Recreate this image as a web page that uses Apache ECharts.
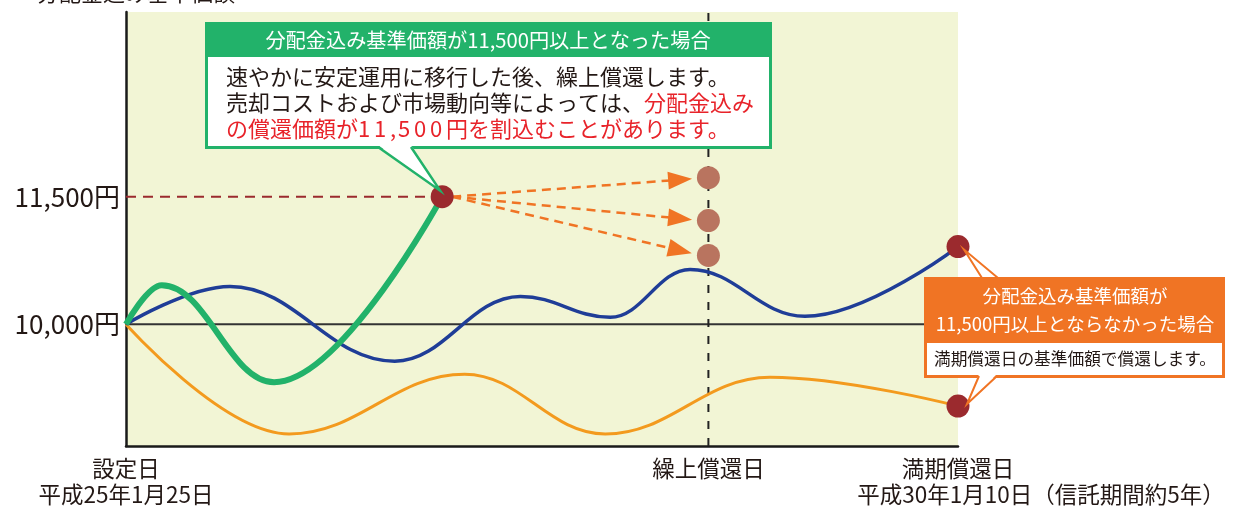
<!DOCTYPE html>
<html><head><meta charset="utf-8">
<script src="https://cdn.jsdelivr.net/npm/echarts@6/dist/echarts.min.js"></script>
<style>html,body{margin:0;padding:0;background:#fff}#c{width:1237px;height:507px}</style>
</head><body><div id="c"></div>
<script>
// ---- data ----
const xTickValues = [0, 70, 100];
const xTickLabels = ['設定日', '繰上償還日', '満期償還日'];
const xSubTickValues = [0, 100];
const xTickSubLabels = ['平成25年1月25日', '平成30年1月10日（信託期間約5年）'];
const yTickValues = [10000, 11500];
const yTickLabels = ['10,000円', '11,500円'];
const threshold = 11500;
const baseValue = 10000;
const earlyDay = 70;

const greenX = [0, 4.3, 17.8, 38];
const greenY = [10000, 10460, 9320, 11500];
const blueX = [0, 12.5, 32.3, 47.4, 58.2, 67.8, 81.6, 100];
const blueY = [10000, 10445, 9566, 10328, 10082, 10645, 10094, 10914];
const orangeX = [0, 19.6, 40.7, 57.6, 77.4, 100];
const orangeY = [10000, 8711, 9414, 8711, 9379, 9039];
const endX = [38, 100, 100];
const endY = [11500, 10914, 9039];
const outcomeX = [70, 70, 70];
const outcomeY = [11723, 11219, 10809];
const arrowEndX = [66.6, 66.6, 66.6];
const arrowEndY = [11699, 11243, 10867];

const titleText = '分配金込み基準価額';
const greenHead = '分配金込み基準価額が11,500円以上となった場合';
const greenBody1 = '速やかに安定運用に移行した後、繰上償還します。';
const greenBody2a = '売却コストおよび市場動向等によっては、';
const greenBody2b = '分配金込み';
const greenBody3a = 'の償還価額が';
const greenBody3num = '11,500';
const greenBody3b = '円を割込むことがあります。';
const orangeHead1 = '分配金込み基準価額が';
const orangeHead2 = '11,500円以上とならなかった場合';
const orangeBody = '満期償還日の基準価額で償還します。';

// ---- chart ----
const zip = (xs, ys) => xs.map((x, i) => [x, ys[i]]);
const FONT = '"Noto Sans CJK JP", "Noto Sans", sans-serif';
const TXT = '#231815';
const GREEN = '#22b26a', BLUE = '#1f3d97', ORANGE_L = '#f39a1e', ORANGE = '#f07424';
const DARKRED = '#9b2a2e', BROWN = '#b9745f';

const chart = echarts.init(document.getElementById('c'));
const yMin = 8570, yMax = 13670;

chart.setOption({
  animation: false,
  textStyle: { fontFamily: FONT },
  grid: { left: 126, right: 279, top: 12, bottom: 60, show: true, backgroundColor: '#f2f5d5', borderWidth: 0 },
  xAxis: [{
    type: 'value', min: 0, max: 100,
    splitLine: { show: false }, axisTick: { show: false },
    axisLine: { onZero: false, lineStyle: { color: '#1a1a1a', width: 2.5 } },
    axisLabel: {
      customValues: xTickValues, showMinLabel: true, showMaxLabel: true, hideOverlap: false,
      margin: 9, color: TXT, fontFamily: FONT, fontSize: 22.5, lineHeight: 26,
      formatter: (v) => { const i = xTickValues.indexOf(v); return i < 0 ? '' : xTickLabels[i]; }
    }
  }, {
    type: 'value', min: 0, max: 100, position: 'bottom', offset: 26,
    splitLine: { show: false }, axisTick: { show: false }, axisLine: { show: false },
    axisLabel: {
      customValues: xSubTickValues, showMinLabel: true, showMaxLabel: true,
      margin: 9, color: TXT, fontFamily: FONT, fontSize: 22.5, lineHeight: 26,
      formatter: (v) => {
        const i = xSubTickValues.indexOf(v);
        if (i < 0) return '';
        return '{' + (i === 1 ? 'b' : 'a') + '|' + xTickSubLabels[i] + '}';
      },
      rich: {
        a: { fontSize: 22.5, lineHeight: 26, color: TXT, fontFamily: FONT },
        b: { fontSize: 22.5, lineHeight: 26, color: TXT, fontFamily: FONT, padding: [0, 0, 0, 166] }
      }
    }
  }],
  yAxis: {
    type: 'value', min: yMin, max: yMax,
    splitLine: { show: false }, axisTick: { show: false },
    axisLine: { show: true, onZero: false, lineStyle: { color: '#1a1a1a', width: 2.5 } },
    axisLabel: {
      customValues: yTickValues, showMinLabel: true, showMaxLabel: true, margin: 6, color: TXT, fontFamily: FONT, fontSize: 26,
      formatter: (v) => { const i = yTickValues.indexOf(v); return i < 0 ? '' : yTickLabels[i]; }
    }
  },
  series: [
    { type: 'line', data: [[0, baseValue], [100, baseValue]], symbol: 'none', silent: true, z: 1,
      lineStyle: { color: '#333', width: 2 } },
    { type: 'line', data: [[0, threshold], [endX[0], threshold]], symbol: 'none', z: 1,
      lineStyle: { color: DARKRED, width: 2, type: [10, 7] } },
    { type: 'line', data: [[earlyDay, yMin], [earlyDay, yMax]], symbol: 'none', z: 1,
      lineStyle: { color: '#222', width: 2, type: [8, 9] } },
    { type: 'line', data: zip(orangeX, orangeY), symbol: 'none', smooth: 0.4, smoothMonotone: 'x', z: 2,
      lineStyle: { color: ORANGE_L, width: 3 } },
    { type: 'line', data: zip(blueX, blueY), symbol: 'none', smooth: 0.4, smoothMonotone: 'x', z: 3,
      lineStyle: { color: BLUE, width: 3.5 } },
    { type: 'line', data: zip(greenX, greenY), symbol: 'none', smooth: 0.4, smoothMonotone: 'x', z: 4,
      lineStyle: { color: GREEN, width: 6 } },
    { type: 'line', data: [], symbol: 'none', z: 5,
      markLine: {
        silent: true, symbol: ['none', 'triangle'], symbolSize: [18, 24], label: { show: false },
        lineStyle: { color: ORANGE, width: 2.5, type: [9, 6] },
        data: arrowEndX.map((x, i) => [{ coord: [endX[0] + 1.2, threshold] }, { coord: [x, arrowEndY[i]] }])
      } },
    { type: 'scatter', data: zip(outcomeX, outcomeY), symbolSize: 23, z: 6, itemStyle: { color: BROWN, opacity: 1 } },
    { type: 'scatter', data: zip(endX, endY), symbolSize: 23, z: 7, itemStyle: { color: DARKRED, opacity: 1 } }
  ]
});

const p0 = chart.convertToPixel({ gridIndex: 0 }, [endX[0], endY[0]]);
const p1 = chart.convertToPixel({ gridIndex: 0 }, [endX[1], endY[1]]);
const p2 = chart.convertToPixel({ gridIndex: 0 }, [endX[2], endY[2]]);

const numTokens = greenBody3num.split('').map(ch => ch === ',' ? '{c|,}' : '{d|' + ch + '}').join('');
const bodyFS = 22;
const graphic = [
  { type: 'text', x: 37, y: -18, z: 50, style: { text: titleText, fontSize: 22, fill: TXT, fontFamily: FONT } },
  // green box
  { type: 'rect', z: 50, shape: { x: 205, y: 22, width: 567, height: 127 }, style: { fill: GREEN } },
  { type: 'rect', z: 51, shape: { x: 208, y: 57, width: 561, height: 89 }, style: { fill: '#fff' } },
  { type: 'polygon', z: 51, shape: { points: [[378, 145], [411, 145], [p0[0] - 2, p0[1] - 6]] }, style: { fill: '#fff' } },
  { type: 'polyline', z: 52, shape: { points: [[378, 147], [p0[0] - 2, p0[1] - 6], [411, 147]] }, style: { stroke: GREEN, lineWidth: 2.5, fill: null } },
  { type: 'text', z: 53, style: { x: 488, y: 40, text: greenHead, fontSize: 20.2, fill: '#fff', fontFamily: FONT, align: 'center', verticalAlign: 'middle' } },
  { type: 'text', z: 53, style: {
      x: 226, y: 64, fontFamily: FONT, fontSize: bodyFS, lineHeight: 26,
      text: '{k|' + greenBody1 + '}\n{k|' + greenBody2a + '}{r|' + greenBody2b + '}\n{r|' + greenBody3a + '}' + numTokens + '{r|' + greenBody3b + '}',
      rich: {
        k: { fill: TXT, fontSize: bodyFS, lineHeight: 26, fontFamily: FONT },
        r: { fill: '#e8232a', fontSize: bodyFS, lineHeight: 26, fontFamily: FONT },
        d: { fill: '#e8232a', fontSize: bodyFS, lineHeight: 26, fontFamily: FONT, width: 16, align: 'left' },
        c: { fill: '#e8232a', fontSize: bodyFS, lineHeight: 26, fontFamily: FONT, width: 8, align: 'left' }
      }
  } },
  // orange box
  { type: 'polygon', z: 50, shape: { points: [[982, 279], [998, 279], [p1[0] + 6, p1[1] + 3]] }, style: { fill: '#fff' } },
  { type: 'polyline', z: 52, shape: { points: [[982, 278], [p1[0] + 6, p1[1] + 3], [998, 278]] }, style: { stroke: ORANGE, lineWidth: 2, fill: null } },
  { type: 'rect', z: 51, shape: { x: 924, y: 277, width: 301, height: 101 }, style: { fill: ORANGE } },
  { type: 'rect', z: 52, shape: { x: 927, y: 343, width: 295, height: 32 }, style: { fill: '#fff' } },
  { type: 'polygon', z: 52, shape: { points: [[979, 374], [997, 374], [p2[0] + 9, p2[1] - 2]] }, style: { fill: '#fff' } },
  { type: 'polyline', z: 53, shape: { points: [[979, 376], [p2[0] + 9, p2[1] - 2], [997, 376]] }, style: { stroke: ORANGE, lineWidth: 2, fill: null } },
  { type: 'text', z: 54, style: { x: 1075, y: 296, text: orangeHead1, fontSize: 18.5, fill: '#fff', fontFamily: FONT, align: 'center', verticalAlign: 'middle' } },
  { type: 'text', z: 54, style: { x: 1075, y: 324, text: orangeHead2, fontSize: 18.5, fill: '#fff', fontFamily: FONT, align: 'center', verticalAlign: 'middle' } },
  { type: 'text', z: 54, style: { x: 1075, y: 359, text: orangeBody, fontSize: 16.7, fill: TXT, fontFamily: FONT, align: 'center', verticalAlign: 'middle' } }
];
chart.setOption({ graphic: graphic });
</script>
</body></html>
